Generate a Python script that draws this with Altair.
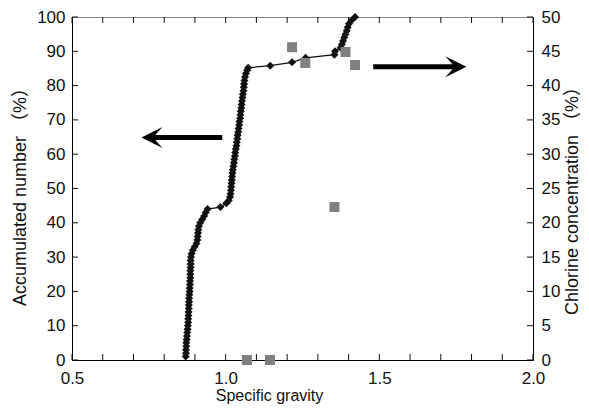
import altair as alt
import pandas as pd

# ---- data ----
acc_x = [0.870, 0.871, 0.871, 0.872, 0.872, 0.873, 0.874, 0.875, 0.876, 0.877,
         0.878, 0.878, 0.879, 0.879, 0.880, 0.880, 0.881, 0.881, 0.882, 0.883,
         0.883, 0.884, 0.884, 0.885, 0.885, 0.885, 0.886, 0.886, 0.886, 0.887,
         0.889, 0.893, 0.899,
         0.905, 0.908, 0.909, 0.910, 0.911, 0.913, 0.917, 0.924, 0.930, 0.935, 0.941,
         0.983,
         1.002, 1.010, 1.014, 1.016, 1.017, 1.018, 1.019, 1.020, 1.021, 1.022,
         1.023, 1.025, 1.027, 1.028, 1.030, 1.031, 1.033, 1.035, 1.036, 1.038,
         1.039, 1.041, 1.042, 1.044, 1.045, 1.047, 1.048, 1.049, 1.051, 1.052,
         1.053, 1.055, 1.056, 1.058, 1.059, 1.060, 1.061, 1.063, 1.066, 1.070, 1.073,
         1.145, 1.216, 1.260, 1.354, 1.356, 1.374, 1.378, 1.382, 1.386, 1.390,
         1.394, 1.397, 1.401, 1.409, 1.421]
acc_y = [1, 2, 3, 4, 5, 6, 7, 8, 9, 10,
         11, 12, 13, 14, 15, 16, 17, 18, 19, 20,
         21, 22, 23, 24, 25, 26, 27, 28, 29, 30,
         31, 32, 33,
         34, 35, 36, 37, 38, 39, 40, 41, 42, 43, 44,
         44.6,
         45.7, 46.5, 47.5, 48.5, 49.5, 50.5, 51.5, 52.5, 53.5, 54.5,
         55.5, 56.5, 57.5, 58.5, 59.5, 60.5, 61.5, 62.5, 63.5, 64.5,
         65.5, 66.5, 67.5, 68.5, 69.5, 70.5, 71.5, 72.5, 73.5, 74.5,
         75.5, 76.5, 77.5, 78.5, 79.5, 80.5, 81.5, 82.5, 83.5, 84.5, 85.2,
         85.8, 86.8, 88.1, 89.0, 90.0, 91.0, 92.0, 93.0, 94.0, 95.0,
         96.0, 97.0, 98.0, 99.0, 100.0]

chl_x = [1.069, 1.144, 1.216, 1.259, 1.354, 1.390, 1.421]
chl_y = [0.0, 0.0, 45.6, 43.3, 22.3, 44.9, 43.0]

x_ticks = [0.5, 0.6, 0.7, 0.8, 0.9, 1.0, 1.1, 1.2, 1.3, 1.4, 1.5, 1.6, 1.7, 1.8, 1.9, 2.0]
x_labels = [0.5, 1.0, 1.5, 2.0]
left_ticks = [0, 10, 20, 30, 40, 50, 60, 70, 80, 90, 100]
right_ticks = [0, 5, 10, 15, 20, 25, 30, 35, 40, 45, 50]

arrow_y = [64.9, 85.5]
arrow_tail = [0.989, 1.480]
arrow_tip = [0.726, 1.783]
arrow_dir = ["left", "right"]

# ---- styling ----
FONT = "Liberation Sans, Arial, Noto Sans CJK JP, sans-serif"
INK = "#111111"
W, H = 461, 343

acc = pd.DataFrame({"sg": acc_x, "acc": acc_y, "i": list(range(len(acc_x)))})
chl = pd.DataFrame({"sg": chl_x, "cl": chl_y})
xt = pd.DataFrame({"v": x_ticks})
lt = pd.DataFrame({"v": left_ticks})
rt = pd.DataFrame({"v": right_ticks})
arr = pd.DataFrame({"y": arrow_y, "tail": arrow_tail, "tip": arrow_tip, "dir": arrow_dir})

xscale = alt.Scale(domain=[0.5, 2.0], nice=False, zero=False)
lscale = alt.Scale(domain=[0, 100], nice=False, zero=False)
rscale = alt.Scale(domain=[0, 50], nice=False, zero=False)

xaxis = alt.Axis(orient="bottom", values=x_labels, format=".1f", tickSize=0, ticks=False, labelPadding=10,
                 labelFontSize=17, labelFont=FONT, labelColor=INK, labelFlush=False,
                 domain=True, domainColor="#000000", grid=False,
                 title="Specific gravity", titleFont=FONT, titleFontSize=16,
                 titleFontWeight="normal", titleColor=INK,
                 titleX=197, titleY=40, titleBaseline="alphabetic")
laxis = alt.Axis(orient="left", values=left_ticks, tickSize=0, ticks=False, labelPadding=7,
                 labelFontSize=17, labelFont=FONT, labelColor=INK,
                 domain=True, domainColor="#000000", grid=False,
                 title="Accumulated number （%）", titleFont=FONT, titleFontSize=18,
                 titleFontWeight="normal", titleColor=INK, titleAngle=270,
                 titleBaseline="alphabetic", titleAlign="center",
                 titleX=-47, titleY=175)
raxis = alt.Axis(orient="right", values=right_ticks, tickSize=0, ticks=False, labelPadding=8,
                 labelFontSize=17, labelFont=FONT, labelColor=INK,
                 domain=True, domainColor="#000000", grid=False,
                 title="Chlorine concentration （%）", titleFont=FONT, titleFontSize=18,
                 titleFontWeight="normal", titleColor=INK, titleAngle=270,
                 titleBaseline="alphabetic", titleAlign="center",
                 titleX=44, titleY=179)

line = alt.Chart(acc).mark_line(
    color=INK, strokeWidth=1.3,
    point=alt.OverlayMarkDef(shape="diamond", size=64, filled=True, color=INK, opacity=1)
).encode(
    x=alt.X("sg:Q", scale=xscale, axis=xaxis),
    y=alt.Y("acc:Q", scale=lscale, axis=laxis),
    order="i:Q",
)

squares = alt.Chart(chl).mark_point(shape="square", filled=True, size=100, color="#808080", opacity=1).encode(
    x=alt.X("sg:Q", scale=xscale, axis=xaxis),
    y=alt.Y("cl:Q", scale=rscale, axis=raxis),
)

shaft_l = alt.Chart(arr).transform_filter(alt.datum.dir == "left").mark_rule(
    color="#000000", strokeWidth=5, x2Offset=6
).encode(
    x=alt.X("tail:Q", scale=xscale, axis=xaxis), x2="tip:Q",
    y=alt.Y("y:Q", scale=lscale, axis=None),
)
shaft_r = alt.Chart(arr).transform_filter(alt.datum.dir == "right").mark_rule(
    color="#000000", strokeWidth=5, x2Offset=-6
).encode(
    x=alt.X("tail:Q", scale=xscale, axis=xaxis), x2="tip:Q",
    y=alt.Y("y:Q", scale=lscale, axis=None),
)
head_left = "M0,0 L2,-1 L1.1,0 L2,1 Z"
head_right = "M0,0 L-2,-1 L-1.1,0 L-2,1 Z"
heads = alt.Chart(arr).mark_point(filled=True, opacity=1, color="#000000", size=441, strokeWidth=0).encode(
    x=alt.X("tip:Q", scale=xscale, axis=xaxis),
    y=alt.Y("y:Q", scale=lscale, axis=None),
    shape=alt.Shape("dir:N", scale=alt.Scale(domain=["left", "right"], range=[head_left, head_right]), legend=None),
)

tick_bottom = alt.Chart(xt).mark_rule(color=INK, strokeWidth=1).encode(
    x=alt.X("v:Q", scale=xscale, axis=xaxis), y=alt.value(H), y2=alt.value(H - 6))
tick_top = alt.Chart(xt).mark_rule(color=INK, strokeWidth=1).encode(
    x=alt.X("v:Q", scale=xscale, axis=xaxis), y=alt.value(0), y2=alt.value(6))
tick_left = alt.Chart(lt).mark_rule(color=INK, strokeWidth=1).encode(
    y=alt.Y("v:Q", scale=lscale, axis=None), x=alt.value(0), x2=alt.value(6))
tick_right = alt.Chart(rt).mark_rule(color=INK, strokeWidth=1).encode(
    y=alt.Y("v:Q", scale=rscale, axis=None), x=alt.value(W), x2=alt.value(W - 6))

chart = alt.layer(
    line, squares, tick_bottom, tick_top, tick_left, tick_right, shaft_l, shaft_r, heads
).resolve_scale(y="independent").properties(
    width=W, height=H,
    autosize=alt.AutoSizeParams(type="none"),
    padding={"left": 64, "top": 9, "right": 48, "bottom": 44},
).configure_view(stroke="#888888", strokeWidth=1)

chart.save("out.html", embed_options={"renderer": "svg", "actions": False})
